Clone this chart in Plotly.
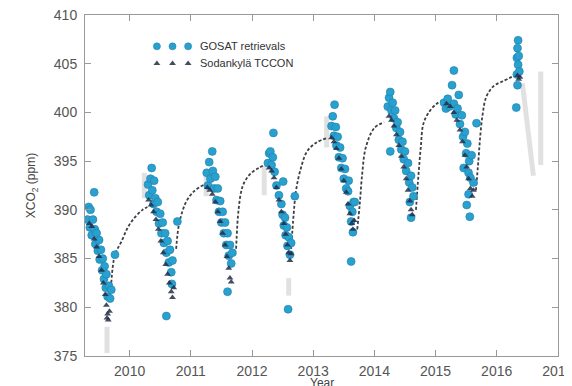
import plotly.graph_objects as go

# ---------------- data ----------------
gosat_year = [
    2009.31, 2009.33, 2009.35, 2009.36, 2009.38, 2009.40, 2009.42, 2009.43, 2009.44, 2009.46,
    2009.48, 2009.50, 2009.51, 2009.53, 2009.55, 2009.56, 2009.58, 2009.59, 2009.61, 2009.62,
    2009.64, 2009.66, 2009.68, 2009.70, 2009.76,
    2010.30, 2010.32, 2010.34, 2010.36, 2010.37, 2010.39, 2010.40, 2010.42, 2010.44, 2010.46,
    2010.48, 2010.50, 2010.52, 2010.54, 2010.56, 2010.58, 2010.60, 2010.62, 2010.64, 2010.66,
    2010.68, 2010.70, 2010.69, 2010.60, 2010.78,
    2011.26, 2011.28, 2011.30, 2011.32, 2011.35, 2011.36, 2011.38, 2011.40, 2011.42, 2011.44,
    2011.46, 2011.48, 2011.50, 2011.52, 2011.54, 2011.56, 2011.58, 2011.60, 2011.62, 2011.64,
    2011.66, 2011.60, 2011.68,
    2012.26, 2012.28, 2012.30, 2012.32, 2012.35, 2012.34, 2012.37, 2012.40, 2012.44, 2012.48,
    2012.51, 2012.50, 2012.52, 2012.54, 2012.55, 2012.57, 2012.58, 2012.60, 2012.62, 2012.59,
    2012.70, 2012.64,
    2013.30, 2013.32, 2013.34, 2013.35, 2013.37, 2013.38, 2013.40, 2013.42, 2013.44, 2013.46,
    2013.48, 2013.50, 2013.52, 2013.54, 2013.57, 2013.58, 2013.60, 2013.62, 2013.64, 2013.66,
    2013.68, 2013.65, 2013.62,
    2014.22, 2014.24, 2014.26, 2014.28, 2014.30, 2014.32, 2014.34, 2014.36, 2014.38, 2014.40,
    2014.42, 2014.44, 2014.46, 2014.48, 2014.50, 2014.52, 2014.55, 2014.57, 2014.60, 2014.62,
    2014.58, 2014.60, 2014.26, 2014.64,
    2015.14, 2015.17, 2015.20, 2015.23, 2015.27, 2015.30, 2015.30, 2015.33, 2015.36, 2015.38,
    2015.40, 2015.43, 2015.45, 2015.48, 2015.46, 2015.50, 2015.52, 2015.54, 2015.55, 2015.59,
    2015.57, 2015.54, 2015.51, 2015.56, 2015.67, 2015.62,
    2016.35, 2016.34, 2016.33, 2016.35, 2016.33, 2016.36, 2016.34, 2016.32, 2016.37,
]
gosat_xco2 = [
    389.0, 390.3, 388.2, 390.0, 387.4, 389.0, 391.8, 388.0, 386.5, 387.6,
    385.8, 386.9, 384.9, 385.9, 383.8, 385.0, 382.9, 384.2, 382.0, 383.4,
    381.1, 382.2, 380.9, 381.8, 385.4,
    392.6, 391.5, 393.2, 394.3, 392.0, 390.6, 393.0, 391.2, 389.8, 390.8,
    388.6, 389.6, 387.6, 388.7, 386.6, 387.6, 385.6, 386.8, 384.6, 385.9,
    383.6, 384.8, 382.4, 379.1, 388.8,
    393.8, 392.5, 394.9, 393.2, 396.0, 394.0, 392.2, 393.4, 391.0, 392.2,
    389.8, 390.9, 388.7, 389.8, 387.6, 388.7, 386.4, 387.6, 385.3, 386.4,
    384.5, 381.6, 385.6,
    394.8, 395.8, 396.0, 394.6, 397.9, 395.4, 393.9, 392.5, 391.5, 390.6,
    392.9, 389.5, 388.4, 389.2, 387.4, 388.2, 386.3, 387.2, 385.4, 379.8,
    391.4, 386.6,
    398.6, 399.6, 397.6, 400.8, 398.5, 396.6, 397.5, 395.4, 396.4, 394.3,
    395.3, 393.2, 394.2, 392.2, 391.9, 393.0, 390.4, 388.8, 389.8, 390.8,
    390.8, 387.7, 384.7,
    400.6, 401.5, 402.1, 400.2, 401.0, 399.4, 400.2, 398.4, 399.0, 397.2,
    398.0, 396.2, 397.0, 395.2, 396.0, 394.0, 394.8, 392.8, 393.5, 392.3,
    390.8, 389.2, 396.0, 391.4,
    401.0, 400.4, 401.4, 400.6, 402.8, 404.3, 400.9, 399.8, 400.4, 401.8,
    398.8, 399.7, 397.5, 398.0, 394.3, 395.8, 396.8, 393.8, 395.0, 395.6,
    393.3, 391.6, 390.5, 389.3, 398.9, 392.8,
    407.4, 406.6, 405.6, 404.9, 403.9, 405.8, 402.8, 400.5, 404.2,
]

tccon_year = [
    2009.34, 2009.38, 2009.42, 2009.46, 2009.50, 2009.54, 2009.57, 2009.60, 2009.62, 2009.64, 2009.65, 2009.67, 2009.63,
    2010.31, 2010.35, 2010.39, 2010.43, 2010.47, 2010.51, 2010.55, 2010.59, 2010.62, 2010.65, 2010.68, 2010.70, 2010.72,
    2011.27, 2011.31, 2011.35, 2011.40, 2011.44, 2011.48, 2011.52, 2011.56, 2011.59, 2011.62, 2011.64, 2011.66,
    2012.28, 2012.32, 2012.36, 2012.40, 2012.44, 2012.48, 2012.52, 2012.55, 2012.58, 2012.60, 2012.62, 2012.64,
    2013.30, 2013.34, 2013.38, 2013.42, 2013.46, 2013.50, 2013.54, 2013.57, 2013.60, 2013.63, 2013.65, 2013.67,
    2014.24, 2014.28, 2014.32, 2014.36, 2014.40, 2014.44, 2014.48, 2014.52, 2014.55, 2014.58, 2014.60, 2014.62,
    2015.18, 2015.24, 2015.30, 2015.35, 2015.40, 2015.44, 2015.48, 2015.51, 2015.54, 2015.57, 2015.60, 2015.62,
    2016.34, 2016.36, 2016.38,
]
tccon_xco2 = [
    388.6, 388.3, 387.0, 386.2, 385.2, 383.8, 382.5, 381.3, 380.2, 379.3, 378.7, 379.6, 378.9,
    391.0, 390.5, 389.8, 389.0, 388.0, 386.8, 385.6, 384.4, 383.4, 382.5, 381.6, 381.0, 382.0,
    392.3, 392.0, 391.6, 390.8, 389.8, 388.8, 387.6, 386.4, 385.2, 384.0, 383.0, 382.6,
    394.3, 394.0, 393.3, 392.3, 391.0, 389.8, 388.6, 387.5, 386.4, 385.6, 384.8, 385.5,
    397.4, 397.0, 396.3, 395.3, 394.2, 393.0, 391.8, 390.6, 389.6, 388.6, 388.0, 388.9,
    399.6, 399.2, 398.6, 397.7, 396.6, 395.5, 394.4, 393.2, 392.0, 390.9, 390.0, 389.5,
    400.9, 400.6, 400.0, 399.2, 398.2, 397.0, 395.6, 394.4, 393.2, 392.2, 391.4, 392.0,
    403.8, 403.4, 403.6,
]

# dashed fit between measurement seasons (None separates segments)
fit_year = [
    2009.70, 2009.76, 2009.87, 2009.97, 2010.08, 2010.21, 2010.29, None,
    2010.76, 2010.80, 2010.86, 2010.93, 2011.05, 2011.22, None,
    2011.74, 2011.78, 2011.84, 2011.92, 2012.01, 2012.11, 2012.20, None,
    2012.64, 2012.68, 2012.72, 2012.80, 2012.90, 2013.05, 2013.24, None,
    2013.72, 2013.76, 2013.80, 2013.86, 2014.00, 2014.16, None,
    2014.68, 2014.72, 2014.76, 2014.80, 2014.89, 2015.02, 2015.15, None,
    2015.66, 2015.70, 2015.73, 2015.77, 2015.83, 2015.95, 2016.10, 2016.30,
]
fit_xco2 = [
    382.5, 385.4, 386.8, 388.2, 389.2, 390.0, 390.3, None,
    386.0, 388.3, 389.8, 390.9, 391.9, 392.6, None,
    386.0, 390.0, 392.3, 393.3, 393.9, 394.3, 394.6, None,
    386.0, 389.5, 392.0, 394.3, 396.0, 396.9, 397.4, None,
    388.0, 390.5, 393.6, 396.4, 398.4, 399.0, None,
    390.0, 393.5, 396.5, 398.8, 400.0, 400.9, 401.3, None,
    392.0, 395.0, 397.5, 399.8, 401.6, 402.7, 403.2, 403.8,
]

# light grey model spread
model_year = [
    2009.63, 2009.63, None, 2010.24, 2010.24, None, 2011.25, 2011.25, None,
    2012.20, 2012.20, None, 2012.60, 2012.60, None, 2013.22, 2013.22, None,
    2016.42, 2016.48, 2016.55, 2016.60, None, 2016.72, 2016.72,
]
model_xco2 = [
    378.0, 375.3, None, 393.8, 391.2, None, 393.6, 391.4,
    None, 394.5, 391.5, None, 383.0, 381.2, None, 399.6, 396.4,
    None, 403.0, 400.0, 396.8, 393.5, None, 404.2, 394.6,
]

x_ticks = [2010, 2011, 2012, 2013, 2014, 2015, 2016, 2017]
y_ticks = [375, 380, 385, 390, 395, 400, 405, 410]

GOSAT_COLOR = "#28a0d0"
GOSAT_EDGE = "#2182a8"
TCCON_COLOR = "rgba(35,45,70,0.85)"

# ---------------- figure ----------------
fig = go.Figure()

fig.add_trace(go.Scatter(
    x=model_year, y=model_xco2, mode="lines",
    line=dict(color="rgba(200,200,200,0.55)", width=5),
    showlegend=False, hoverinfo="skip"))

fig.add_trace(go.Scatter(
    x=fit_year, y=fit_xco2, mode="lines", line_shape="spline",
    line=dict(color="#3c4048", width=1.8, dash="3px,2px"),
    showlegend=False, hoverinfo="skip"))

fig.add_trace(go.Scatter(
    x=gosat_year, y=gosat_xco2, mode="markers",
    marker=dict(symbol="circle", size=8, color=GOSAT_COLOR,
                line=dict(color=GOSAT_EDGE, width=0.6)),
    name="GOSAT retrievals", showlegend=False))

fig.add_trace(go.Scatter(
    x=tccon_year, y=tccon_xco2, mode="markers",
    marker=dict(symbol="triangle-up", size=6, color=TCCON_COLOR,
                line=dict(width=0)),
    name="Sodankylä TCCON", showlegend=False))

# custom legend (three sample symbols per entry, as in the original)
leg_x = [0.152, 0.185, 0.218]
fig.add_trace(go.Scatter(
    x=leg_x, y=[0.908] * 3, xaxis="x2", yaxis="y2", mode="markers",
    marker=dict(symbol="circle", size=7, color=GOSAT_COLOR,
                line=dict(color=GOSAT_EDGE, width=0.6)),
    showlegend=False, hoverinfo="skip"))
fig.add_trace(go.Scatter(
    x=leg_x, y=[0.858] * 3, xaxis="x2", yaxis="y2", mode="markers",
    marker=dict(symbol="triangle-up", size=6, color=TCCON_COLOR),
    showlegend=False, hoverinfo="skip"))

fig.add_annotation(x=0.238, y=0.908, xref="paper", yref="paper", text="GOSAT retrievals",
                   showarrow=False, xanchor="left", yanchor="middle",
                   font=dict(size=11, color="#333"))
fig.add_annotation(x=0.238, y=0.858, xref="paper", yref="paper", text="Sodankylä TCCON",
                   showarrow=False, xanchor="left", yanchor="middle",
                   font=dict(size=11, color="#333"))

# x-axis title placed explicitly below the tick labels
fig.add_annotation(x=0.5, y=-0.078, xref="paper", yref="paper", text="Year",
                   showarrow=False, xanchor="center", yanchor="middle",
                   font=dict(size=12, color="#444"))

axis_common = dict(
    showgrid=False, zeroline=False, showline=True, linecolor="#999999", linewidth=1,
    mirror="ticks", ticks="inside", ticklen=6, tickcolor="#999999",
    tickfont=dict(size=14, color="#555"), automargin=False,
    ticklabeloverflow="allow",
)

# the page places the figure 8 px from the top-left corner of the window
fig.update_layout(
    width=564, height=378,
    margin=dict(l=77, r=14, t=7, b=30),
    paper_bgcolor="white", plot_bgcolor="white",
    font=dict(family="Liberation Sans, Arial, sans-serif", color="#444"),
    xaxis=dict(range=[2009.27, 2017.002], tickvals=x_ticks, ticklabelstandoff=2,
               **axis_common),
    yaxis=dict(range=[375, 410], tickvals=y_ticks, ticklabelstandoff=4,
               title=dict(text="XCO<sub>2</sub> (ppm)", font=dict(size=12, color="#444"), standoff=15),
               **axis_common),
    xaxis2=dict(overlaying="x", range=[0, 1], visible=False),
    yaxis2=dict(overlaying="y", range=[0, 1], visible=False),
    showlegend=False,
)

fig.write_html("out.html")
